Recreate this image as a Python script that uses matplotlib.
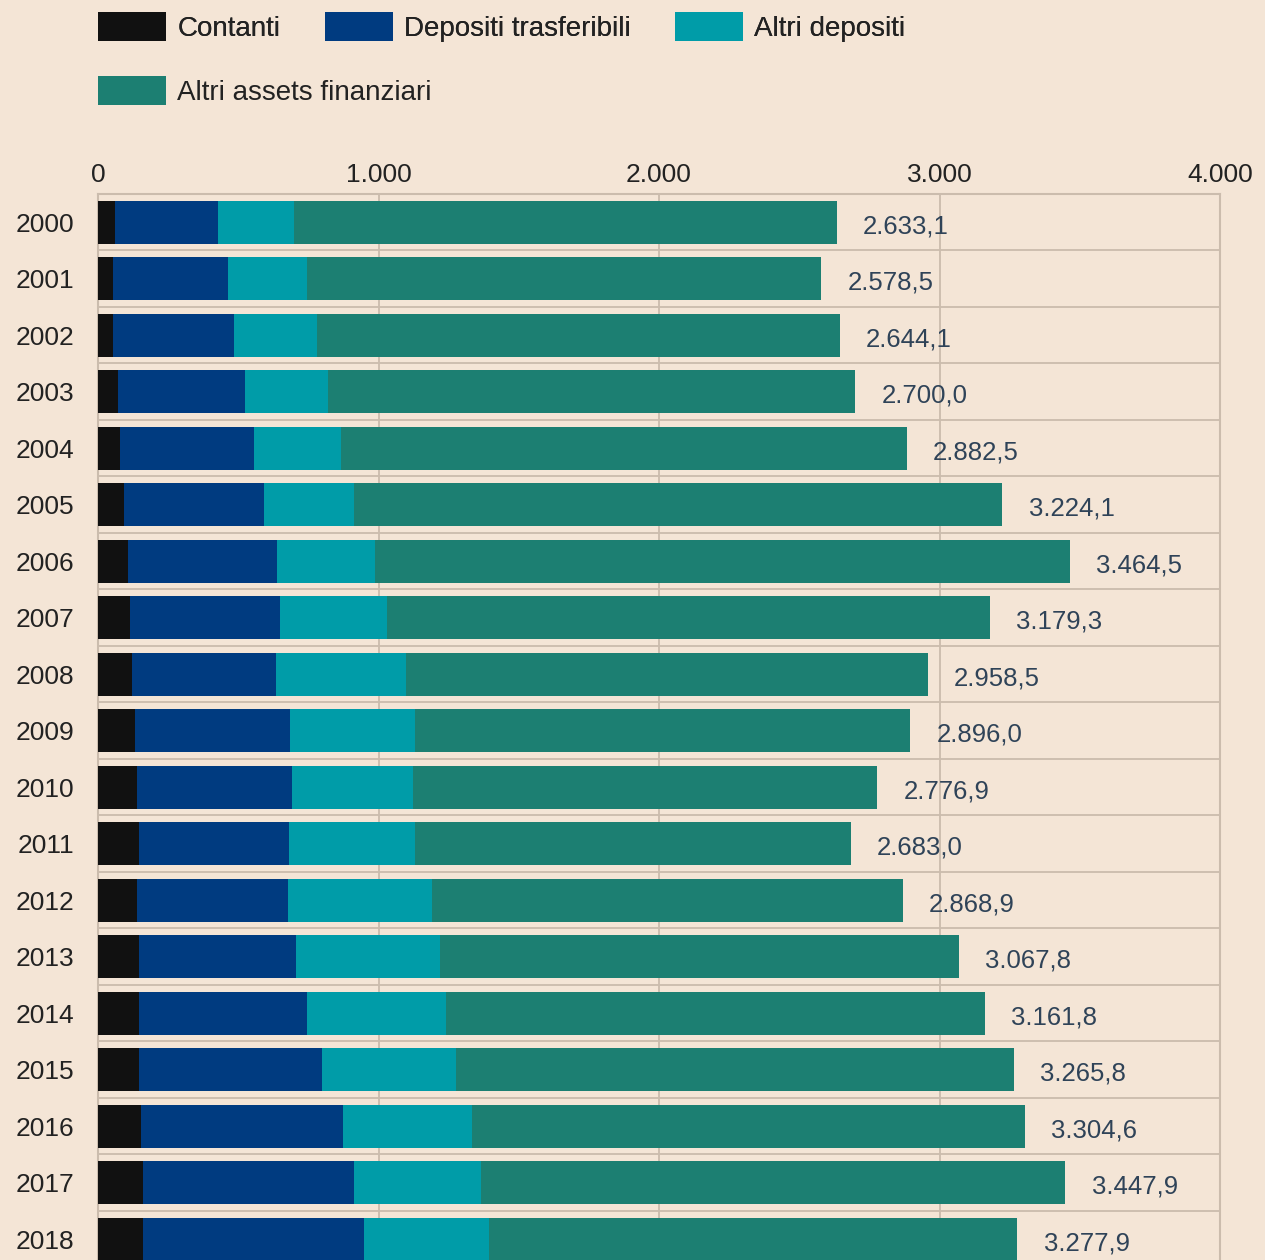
import numpy as np
import matplotlib
matplotlib.use('Agg')
import matplotlib.pyplot as plt
from matplotlib.ticker import FuncFormatter

plt.rcParams['font.family'] = ['Liberation Sans', 'DejaVu Sans']

anni = [str(a) for a in range(2000, 2019)]
contanti = [62, 53, 53, 70, 77, 93, 108, 113, 121, 131, 139, 146, 139, 146, 146, 146, 154, 160, 160]
depositi_trasf = [365, 409, 432, 455, 478, 500, 529, 537, 515, 552, 551, 536, 537, 559, 598, 651, 718, 753, 788]
altri_depositi = [273, 283, 296, 296, 310, 320, 349, 379, 463, 446, 433, 447, 514, 514, 497, 478, 460, 451, 446]
altri_assets = [1933.1, 1833.5, 1863.1, 1879.0, 2017.5, 2311.1, 2478.5, 2150.3, 1859.5, 1767.0,
                1653.9, 1554.0, 1678.9, 1848.8, 1920.8, 1990.8, 1972.6, 2083.9, 1883.9]
totali = [2633.1, 2578.5, 2644.1, 2700.0, 2882.5, 3224.1, 3464.5, 3179.3, 2958.5, 2896.0,
          2776.9, 2683.0, 2868.9, 3067.8, 3161.8, 3265.8, 3304.6, 3447.9, 3277.9]

serie = [('Contanti', contanti, '#111111'),
         ('Depositi trasferibili', depositi_trasf, '#003b80'),
         ('Altri depositi', altri_depositi, '#009ca8'),
         ('Altri assets finanziari', altri_assets, '#1c7f72')]

bg = '#f4e5d6'
grid_col = '#cbbcad'

def it_fmt(v, dec=0):
    s = f"{v:,.{dec}f}"
    return s.replace(',', 'X').replace('.', ',').replace('X', '.')

fig = plt.figure(figsize=(12.65, 12.6), dpi=100, facecolor=bg)
ax = fig.add_axes([98/1265, 0, 1122/1265, 1066/1260])
ax.set_facecolor(bg)

y = np.arange(len(anni))
left = np.zeros(len(anni))
handles = []
for nome, vals, col in serie:
    b = ax.barh(y, vals, left=left, height=0.76, color=col, linewidth=0, label=nome, zorder=3)
    handles.append(b)
    left = left + np.array(vals)

for i, t in enumerate(totali):
    ax.annotate(it_fmt(t, 1), xy=(t, i), xytext=(19, -3), textcoords='offset points',
                ha='left', va='center', fontsize=18.5, color='#2f4358')

ax.set_xticks([0, 1000, 2000, 3000, 4000])
ax.xaxis.set_major_formatter(FuncFormatter(lambda v, p: it_fmt(v)))
ax.xaxis.tick_top()
ax.set_yticks(y)
ax.set_yticklabels(anni)
ax.set_yticks(np.arange(-0.5, len(anni), 1), minor=True)
# limiti dopo i tick, altrimenti set_yticks li allarga
ax.set_xlim(0, 4000)
ax.set_ylim(18.37, -0.5)
ax.tick_params(axis='x', length=0, pad=5, labelsize=19, colors='#222222')
ax.tick_params(axis='y', which='major', length=0, pad=17, labelsize=19, colors='#222222')
ax.tick_params(axis='y', which='minor', length=0)
ax.grid(axis='x', color=grid_col, linewidth=1.3, zorder=0)
ax.grid(axis='y', which='minor', color=grid_col, linewidth=1.3, zorder=0)
ax.set_axisbelow(True)
for side in ['left', 'top', 'right']:
    ax.spines[side].set_color(grid_col)
    ax.spines[side].set_linewidth(1.5)
ax.spines['bottom'].set_visible(False)

leg_kw = dict(frameon=False, fontsize=20, handlelength=2.45, handleheight=1.22,
              handletextpad=0.4, borderpad=0, borderaxespad=0, labelcolor='#222222')
leg1 = fig.legend(handles[:3], [s[0] for s in serie[:3]], loc='center left',
                  bbox_to_anchor=(98/1265, 1 - 27/1260), ncol=3, columnspacing=1.6, **leg_kw)
leg2 = fig.legend(handles[3:], [serie[3][0]], loc='center left',
                  bbox_to_anchor=(98/1265, 1 - 91/1260), **leg_kw)
fig.add_artist(leg1)

fig.savefig('out.png', dpi=100, facecolor=bg)
